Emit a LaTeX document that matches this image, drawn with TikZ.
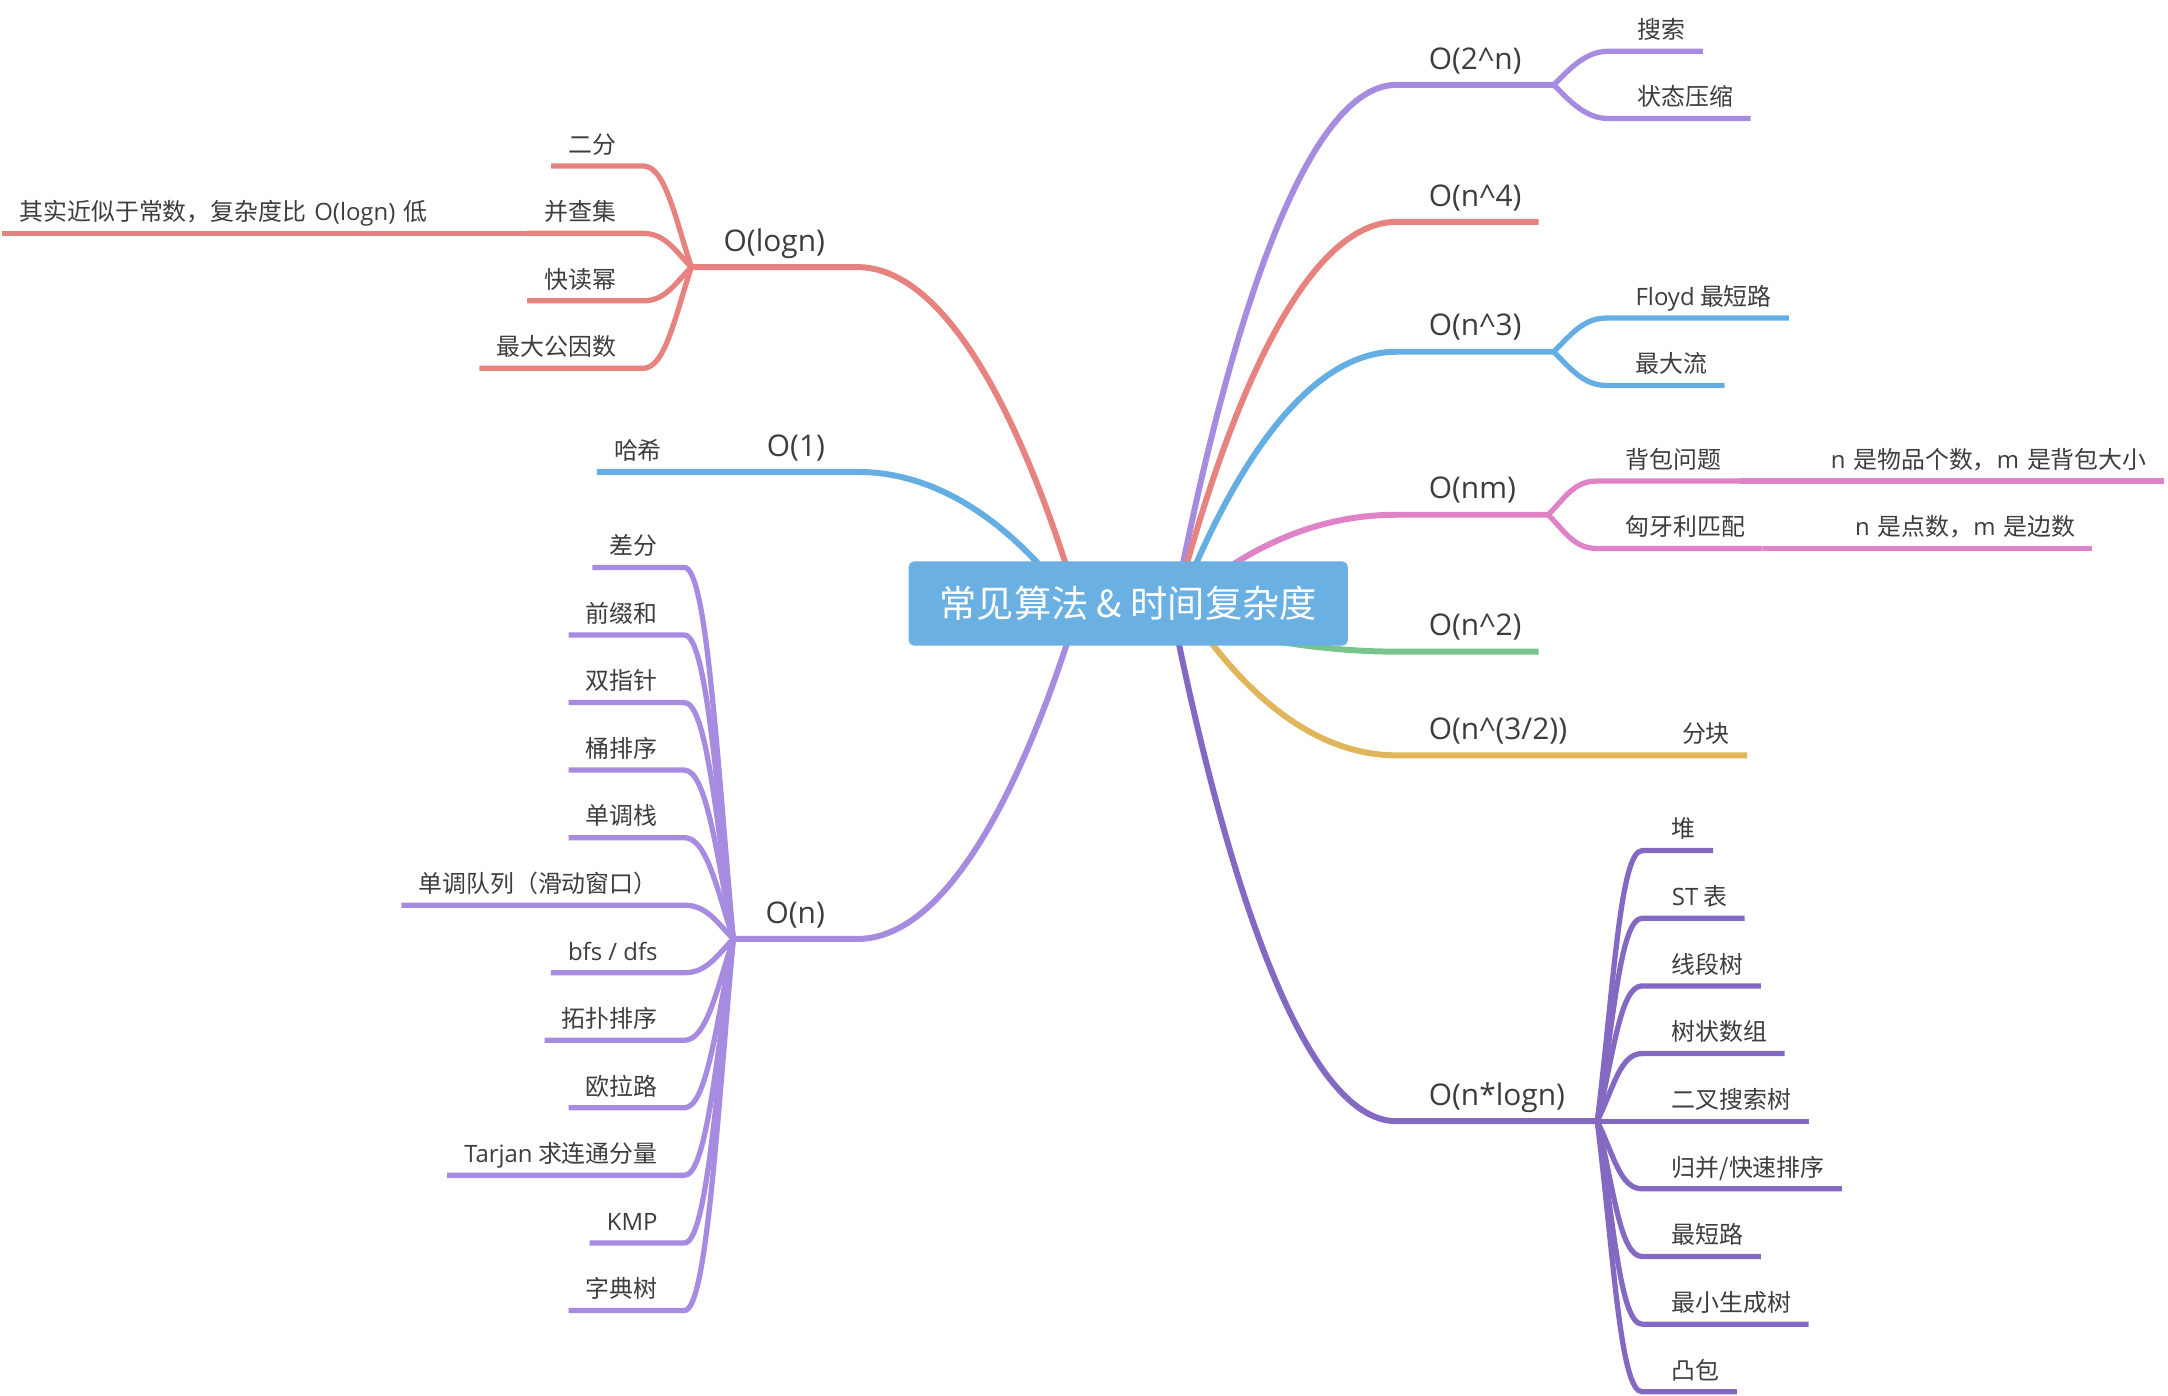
\documentclass[tikz,border=0pt]{standalone}
\usepackage{fontspec}
\setmainfont{Open Sans}
\newfontfamily\cjk{Noto Sans CJK SC}
\newfontfamily\lat{Open Sans}
\usetikzlibrary{backgrounds}

\definecolor{rootblue}{HTML}{6AB0E3}
\definecolor{txtgray}{HTML}{3D3D3D}
\definecolor{cRed}{HTML}{E6837F}
\definecolor{cBlue}{HTML}{64AEE4}
\definecolor{cLav}{HTML}{A68BE0}
\definecolor{cPink}{HTML}{DF83C9}
\definecolor{cGreen}{HTML}{78C48A}
\definecolor{cGold}{HTML}{E1B65A}
\definecolor{cViolet}{HTML}{8469C2}

\begin{document}
\begin{tikzpicture}[
        x = 0.013827cm, y = -0.013827cm,
        every node/.style = {inner sep = 0pt, text = txtgray},
        rootbox/.style = {fill = rootblue, rounded corners = 1.6pt, text = white,
                minimum width = 125pt, minimum height = 24pt,
                font = \cjk\fontsize{10.6}{12}\selectfont},
        topic/.style = {inner xsep = 9pt, inner ysep = 2.2pt,
                text height = 6.4pt, text depth = 2.1pt,
                font = \fontsize{8.5}{10}\selectfont},
        leaf/.style = {inner xsep = 4.7pt, inner ysep = 1.7pt,
                text height = 5.6pt, text depth = 1.7pt,
                font = \cjk\fontsize{6.8}{8}\selectfont},
        mainline/.style = {line width = 1.7pt, shorten <= -3pt},
        subline/.style = {line width = 1.5pt}
    ]
    \useasboundingbox (0,0) rectangle (1568,1009.65);

    \node[rootbox] (root) at (816,436.5) {常见算法 \& 时间复杂度};

    % left side
    \node[topic, anchor = south east] (tLogn) at (620,193.2) {O(logn)};
    \node[topic, anchor = south east] (tOne) at (620,341.3) {O(1)};
    \node[topic, anchor = south east] (tN) at (620,679.1) {O(n)};

    % right side
    \node[topic, anchor = south west] (tExp) at (1010,61.4) {O(2\textasciicircum n)};
    \node[topic, anchor = south west] (tN4) at (1010,160.5) {O(n\textasciicircum 4)};
    \node[topic, anchor = south west] (tN3) at (1010,254.4) {O(n\textasciicircum 3)};
    \node[topic, anchor = south west] (tNM) at (1010,372.3) {O(nm)};
    \node[topic, anchor = south west] (tN2) at (1010,471.3) {O(n\textasciicircum 2)};
    \node[topic, anchor = south west] (tN32) at (1010,546.3) {O(n\textasciicircum (3/2))};
    \node[topic, anchor = south west] (tNlogn) at (1010,810.9) {O(n*logn)};

    \foreach \t [count=\i] in {二分,并查集,快读幂,最大公因数} {
        \node[leaf, anchor = south east] (logn-\i) at (458,{193.2+(\i-2.5)*48.8}) {\t};
        \draw[subline, cRed] (tLogn.south west) .. controls +(-12,{(\i-2.5)*24.4}) and +(16,0)
            .. ([shift={(7,0)}]logn-\i.south east) -- (logn-\i.south west);
    }
    \foreach \t [count=\i] in {差分,前缀和,双指针,桶排序,单调栈,单调队列（滑动窗口）,{\lat bfs / dfs},拓扑排序,欧拉路,{\lat Tarjan} 求连通分量,{\lat KMP},字典树} {
        \node[leaf, anchor = south east] (n-\i) at (488,{679.1+(\i-6.5)*48.85}) {\t};
        \draw[subline, cLav] (tN.south west) .. controls +(-12,{(\i-6.5)*24.4}) and +(16,0)
            .. ([shift={(7,0)}]n-\i.south east) -- (n-\i.south west);
    }
    \foreach \t [count=\i] in {搜索,状态压缩} {
        \node[leaf, anchor = south west] (exp-\i) at (1172,{61.4+(\i-1.5)*48.6}) {\t};
        \draw[subline, cLav] (tExp.south east) .. controls +(12,{(\i-1.5)*24.3}) and +(-16,0)
            .. ([shift={(-9,0)}]exp-\i.south west) -- (exp-\i.south east);
    }
    \foreach \t [count=\i] in {{\lat Floyd} 最短路,最大流} {
        \node[leaf, anchor = south west] (n3-\i) at (1170.5,{254.4+(\i-1.5)*48.7}) {\t};
        \draw[subline, cBlue] (tN3.south east) .. controls +(12,{(\i-1.5)*24.3}) and +(-16,0)
            .. ([shift={(-9,0)}]n3-\i.south west) -- (n3-\i.south east);
    }
    \foreach \t [count=\i] in {背包问题,匈牙利匹配} {
        \node[leaf, anchor = south west] (nm-\i) at (1163.5,{372.3+(\i-1.5)*48.7}) {\t};
        \draw[subline, cPink] (tNM.south east) .. controls +(12,{(\i-1.5)*24.3}) and +(-16,0)
            .. ([shift={(-9,0)}]nm-\i.south west) -- (nm-\i.south east);
    }
    \foreach \t [count=\i] in {堆,{\lat ST} 表,线段树,树状数组,二叉搜索树,归并/快速排序,最短路,最小生成树,凸包} {
        \node[leaf, anchor = south west] (nlogn-\i) at (1196.7,{810.9+(\i-5)*48.93}) {\t};
        \draw[subline, cViolet] (tNlogn.south east) .. controls +(12,{(\i-5)*24.5}) and +(-16,0)
            .. ([shift={(-9,0)}]nlogn-\i.south west) -- (nlogn-\i.south east);
    }

    % nodes on the same line as their parent
    \node[leaf, anchor = south east, text width = 34.8pt, align = left] (hash) at (545,341.3) {哈希};
    \node[leaf, anchor = south west, text width = 35.4pt, align = right] (block) at (1148.6,546.3) {分块};
    \node[leaf, anchor = south east, text width = 139.5pt, align = left] (logn-2x) at (logn-2.south west)
        {其实近似于常数，复杂度比 {\lat O(logn)} 低};
    \node[leaf, anchor = south west, text width = 111.1pt, align = right] (nm-1x) at (nm-1.south east)
        {{\lat n} 是物品个数，{\lat m} 是背包大小};
    \node[leaf, anchor = south west, text width = 84pt, align = right] (nm-2x) at (nm-2.south east)
        {{\lat n} 是点数，{\lat m} 是边数};
    \draw[subline, cRed] (logn-2.south west) -- (logn-2x.south west);
    \draw[subline, cPink] (nm-1.south east) -- (nm-1x.south east);
    \draw[subline, cPink] (nm-2.south east) -- (nm-2x.south east);

    \begin{scope}[on background layer]
        \draw[mainline, cRed] ([shift={(-46,0)}]root.north) .. controls +(-37.5,-117.1) and +(60,0)
            .. (tLogn.south east) -- (tLogn.south west);
        \draw[mainline, cBlue] ([shift={(-67,0)}]root.north) .. controls +(-32.3,-35.6) and +(51.6,0)
            .. (tOne.south east) -- (tOne.south west) -- (hash.south west);
        \draw[mainline, cLav] ([shift={(-45,0)}]root.south) .. controls +(-37.8,116.6) and +(60.4,0)
            .. (tN.south east) -- (tN.south west);
        \draw[mainline, cLav] ([shift={(40,0)}]root.north) .. controls +(38.5,-189.5) and +(-61.6,0)
            .. (tExp.south west) -- (tExp.south east);
        \draw[mainline, cRed] ([shift={(43,0)}]root.north) .. controls +(37.8,-135) and +(-60.4,0)
            .. (tN4.south west) -- ([shift={(-11,0)}]tN4.south east);
        \draw[mainline, cBlue] ([shift={(50,0)}]root.north) .. controls +(36,-83.4) and +(-57.6,0)
            .. (tN3.south west) -- (tN3.south east);
        \draw[mainline, cPink] ([shift={(80,0)}]root.north) .. controls +(28.5,-18.5) and +(-45.6,0)
            .. (tNM.south west) -- (tNM.south east);
        \draw[mainline, cGreen] (root.center) .. controls +(64,23) and +(-60,0)
            .. (tN2.south west) -- ([shift={(-11,0)}]tN2.south east);
        \draw[mainline, cGold] ([shift={(62,0)}]root.south) .. controls +(33,43.6) and +(-52.8,0)
            .. (tN32.south west) -- (tN32.south east) -- (block.south east);
        \draw[mainline, cViolet] ([shift={(37,0)}]root.south) .. controls +(39.3,189.1) and +(-62.8,0)
            .. (tNlogn.south west) -- (tNlogn.south east);
    \end{scope}

\end{tikzpicture}
\end{document}
